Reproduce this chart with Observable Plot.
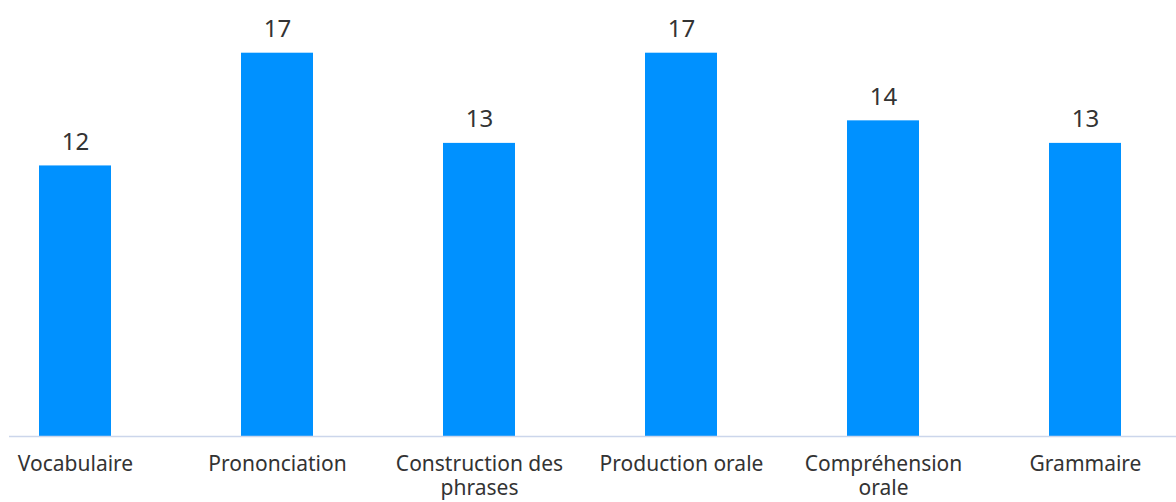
<!DOCTYPE html>
<html>
<head>
<meta charset="utf-8">
<script src="https://cdn.jsdelivr.net/npm/d3@7"></script>
<script src="https://cdn.jsdelivr.net/npm/@observablehq/plot@0.6"></script>
<style>
  html, body { margin: 0; padding: 0; background: #fff; }
  #chart svg { display: block; }
</style>
</head>
<body>
<div id="chart"></div>
<script>
const categories = ["Vocabulaire", "Prononciation", "Construction des phrases", "Production orale", "Compréhension orale", "Grammaire"];
const values = [12, 17, 13, 17, 14, 13];
const tickLabels = ["Vocabulaire", "Prononciation", "Construction des\nphrases", "Production orale", "Compréhension\norale", "Grammaire"];

const data = categories.map((c, i) => ({category: c, value: values[i]}));
const labelOf = new Map(categories.map((c, i) => [c, tickLabels[i]]));

const chart = Plot.plot({
  width: 1176,
  height: 502,
  marginTop: 52.7,
  marginBottom: 66,
  marginLeft: 9,
  marginRight: 0,
  style: {fontFamily: "'Noto Sans', sans-serif", background: "#fff"},
  x: {domain: categories, range: [38.7, 1122.7], paddingInner: 0.6415, paddingOuter: 0},
  y: {domain: [0, 17], axis: null},
  marks: [
    Plot.barY(data, {x: "category", y: "value", fill: "#0091ff"}),
    Plot.ruleY([0], {stroke: "#ccd6eb", strokeWidth: 1.5}),
    Plot.text(data, {x: "category", y: "value", text: d => String(d.value), dy: -16, lineAnchor: "bottom", fontSize: 24, fill: "#333"}),
    Plot.axisX({tickSize: 0, tickPadding: 18, fontSize: 21, lineHeight: 1.12, fill: "#333", tickFormat: d => labelOf.get(d), label: null})
  ]
});
document.getElementById("chart").appendChild(chart);
</script>
</body>
</html>
